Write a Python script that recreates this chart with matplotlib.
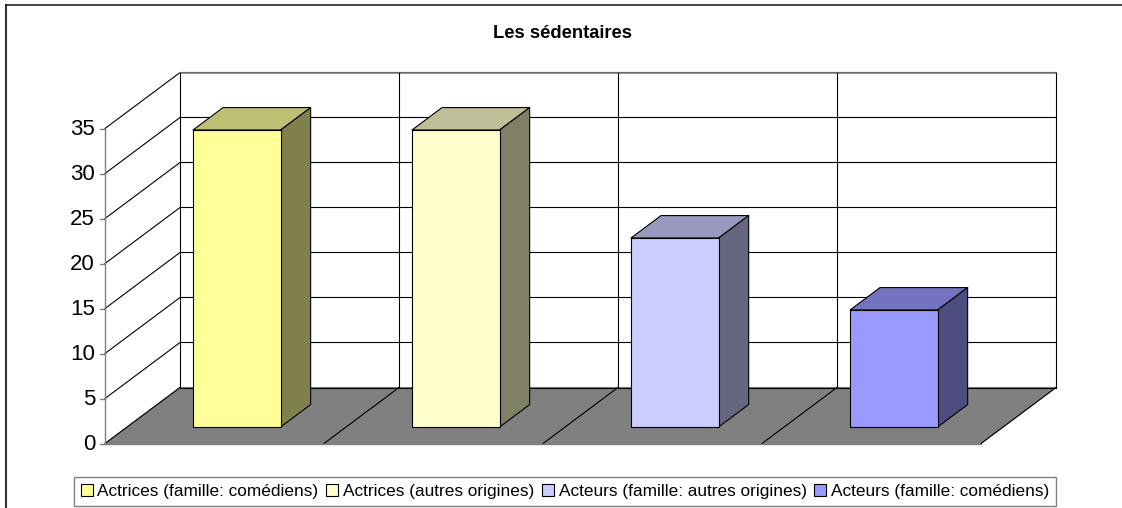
import matplotlib
matplotlib.use('Agg')
import matplotlib.pyplot as plt
from matplotlib.patches import Patch, Polygon

# values
categories = ['Actrices (famille: comédiens)', 'Actrices (autres origines)',
              'Acteurs (famille: autres origines)', 'Acteurs (famille: comédiens)']
values = [33, 33, 21, 13]
front_colors = ['#ffff99', '#ffffcc', '#ccccff', '#9999ff']
top_colors = ['#bfbf73', '#bfbf99', '#9999bf', '#7373bf']
side_colors = ['#80804d', '#808066', '#666680', '#4d4d80']
yticks = [0, 5, 10, 15, 20, 25, 30, 35]

W, H = 1122, 508
x_px = 219.0   # pixels per category
y_px = 9.0     # pixels per value unit
x0_px, y0_px = 105.0, 443.5
depth_dx = 75 / x_px
depth_dy = 56 / y_px


def proj(x, y, d=0.0):
    # oblique projection: d=0 front of the floor, d=1 back wall
    return x + d * depth_dx, y + d * depth_dy


plt.rcParams['font.family'] = ['Liberation Sans', 'DejaVu Sans']
fig = plt.figure(figsize=(W / 100, H / 100), dpi=100)
ax = fig.add_axes([0, 0, 1, 1])
ax.set_xlim(-x0_px / x_px, (W - x0_px) / x_px)
ax.set_ylim((y0_px - H) / y_px, y0_px / y_px)
ax.axis('off')

n = len(categories)
ymax = yticks[-1]

# outer frame, only left and top show up in the crop
ax.plot([6 / W, 6 / W], [0, 1 - 5 / H], transform=ax.transAxes, color='#333333', lw=1.5, zorder=1)
ax.plot([6 / W, 1], [1 - 5 / H, 1 - 5 / H], transform=ax.transAxes, color='#111111', lw=1.1, zorder=1)

# floor
ax.add_patch(Polygon([proj(0, 0), proj(n, 0), proj(n, 0, 1), proj(0, 0, 1)], fc='#808080', ec='#808080', lw=0.8, zorder=2))

# back wall and side wall grid
for t in yticks[1:]:
    ax.plot(*zip(proj(0, t), proj(0, t, 1), proj(n, t, 1)), color='black', lw=0.8, zorder=2)
ax.plot(*zip(proj(0, ymax, 1), proj(n, ymax, 1)), color='#808080', lw=1.2, zorder=2)
for i in range(n + 1):
    ax.plot(*zip(proj(i, 0, 1), proj(i, ymax, 1)), color='black', lw=0.8, zorder=2)
    ax.plot(*zip(proj(i, 0), proj(i, 0, 1)), color='black', lw=0.8, zorder=3)
ax.plot(*zip(proj(0, 0, 1), proj(n, 0, 1)), color='black', lw=0.8, zorder=3)
ax.plot(*zip(proj(0, 0), proj(n, 0)), color='#808080', lw=1, zorder=3)

# value axis
ax.plot(*zip(proj(0, 0), proj(0, ymax)), color='#808080', lw=1, zorder=3)
tick_len = 5 / x_px
for t in yticks:
    ax.plot([-tick_len, 0], [t, t], color='#808080', lw=1, zorder=3)
    ax.text(-tick_len - 5 / x_px, t - 0.1, str(t), ha='right', va='center', fontsize=16, color='black')

# bars
bw = 0.4
d0 = 0.295
for i, v in enumerate(values):
    x1 = i + 0.301
    x2 = x1 + bw
    d1 = d0 + bw
    kw = dict(ec='black', lw=0.8, joinstyle='round', zorder=5)
    ax.add_patch(Polygon([proj(x1, v, d0), proj(x2, v, d0), proj(x2, v, d1), proj(x1, v, d1)], fc=top_colors[i], **kw))
    ax.add_patch(Polygon([proj(x2, 0, d0), proj(x2, 0, d1), proj(x2, v, d1), proj(x2, v, d0)], fc=side_colors[i], **kw))
    ax.add_patch(Polygon([proj(x1, 0, d0), proj(x2, 0, d0), proj(x2, v, d0), proj(x1, v, d0)], fc=front_colors[i], **kw))

ax.text(562.5 / W, 1 - 33 / H, 'Les sédentaires', transform=ax.transAxes, ha='center', va='center', fontsize=13.2, fontweight='bold')

handles = [Patch(fc=c, ec='black', lw=0.8, label=l) for c, l in zip(front_colors, categories)]
leg = ax.legend(handles=handles, ncol=4, loc='center', bbox_to_anchor=(565 / W, 1 - 491.5 / H), bbox_transform=ax.transAxes,
                fontsize=12.4, frameon=True, fancybox=False, edgecolor='#808080', framealpha=1,
                handlelength=0.7, handleheight=0.7, handletextpad=0.27, columnspacing=0.45,
                borderpad=0.4, borderaxespad=0)
leg.get_frame().set_linewidth(1)
leg.set_zorder(6)

fig.savefig('out.png', dpi=100)
